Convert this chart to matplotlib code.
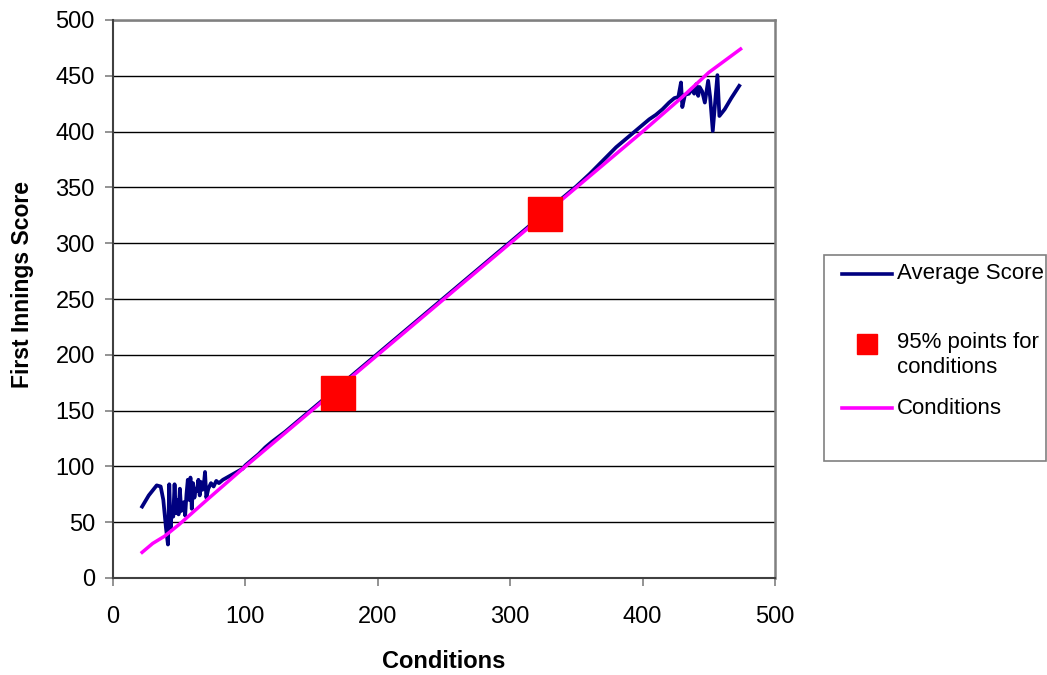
import matplotlib
matplotlib.use("Agg")
import matplotlib.pyplot as plt
from matplotlib.lines import Line2D
from matplotlib.patches import Rectangle

plt.rcParams["font.family"] = ["Liberation Sans", "DejaVu Sans"]

# Average first innings score against conditions
avg_x = [22, 27, 33, 36, 38, 40, 41.5, 42.5, 43.5, 44.5, 45.5, 46.5, 47.5, 48.5,
         49.5, 50.5, 51.5, 52.5, 53.5, 54.5, 55.5, 56.5, 57.5, 58.5, 59.5, 60.5,
         61.5, 62.5, 63.5, 64.5, 65.5, 66.5, 67.5, 68.5, 69.5, 70.5, 72, 74, 76,
         78, 80, 83, 86, 89, 92, 95, 98, 100, 105, 110, 115, 120, 130, 140, 150,
         160, 170, 180, 190, 200, 210, 220, 230, 240, 250, 260, 270, 280, 290,
         300, 310, 320, 330, 340, 350, 360, 365, 370, 375, 380, 385, 390, 395,
         400, 405, 410, 415, 420, 424, 427, 429, 430, 432, 435, 437, 439, 440.5,
         442, 443, 445, 447, 449.5, 451, 453, 456.5, 458, 462, 467, 473]
avg_y = [64, 74, 83, 82, 70, 45, 30, 84, 45, 62, 55, 84, 58, 70, 57, 80, 60, 63,
         68, 56, 75, 88, 70, 90, 62, 85, 72, 80, 78, 88, 74, 86, 79, 82, 95, 72,
         80, 85, 82, 87, 85, 88, 90, 92, 94, 96, 98, 101, 106, 111, 117, 122, 131,
         141, 151, 161, 171, 181, 191, 201, 211, 221, 231, 241, 251, 261, 271, 281,
         291, 301, 311, 321, 331, 341, 351, 362, 368, 374, 380, 386, 391, 396, 401,
         406, 411, 415, 420, 426, 430, 431, 444, 422, 433, 434, 438, 434, 442.5,
         432, 440, 436, 426, 445.5, 431, 400.6, 450.6, 414, 420, 430, 441]

# Conditions (expected score line)
cond_x = [22, 30, 39, 50, 70, 100, 150, 200, 250, 300, 350, 400, 430, 450, 474]
cond_y = [23, 31, 37.5, 48, 69, 100, 150, 200, 250, 300, 350, 400, 431, 453, 474]

# 95% points for conditions
pts_x = [170, 326]
pts_y = [166, 326]

W, H = 1047, 675
fig = plt.figure(figsize=(W / 100, H / 100), dpi=100)
ax = fig.add_axes([113 / W, 1 - 578 / H, 662 / W, 558 / H])

ax.plot(avg_x, avg_y, color="#000080", lw=2.7, zorder=3, solid_joinstyle="round")
ax.plot(cond_x, cond_y, color="#FF00FF", lw=2.5, zorder=4)
ax.plot(pts_x, pts_y, ls="none", marker="s", ms=24, color="#FF0000",
        mec="#FF0000", zorder=5)

ax.set_xlim(0, 500)
ax.set_ylim(0, 500)
ax.set_xticks(range(0, 501, 100))
ax.set_yticks(range(0, 501, 50))
ax.yaxis.grid(True, color="#000000", lw=1.0)
ax.set_axisbelow(True)
for s in ("top", "right"):
    ax.spines[s].set_color("#808080")
    ax.spines[s].set_linewidth(1.8)
for s in ("left", "bottom"):
    ax.spines[s].set_color("#404040")
    ax.spines[s].set_linewidth(1.5)
    ax.spines[s].set_zorder(6)
ax.tick_params(direction="out", length=6, width=1.2, color="#808080",
               labelsize=17)
ax.tick_params(axis="x", pad=14)
ax.tick_params(axis="y", pad=7)

ax.set_xlabel("Conditions", fontsize=17, fontweight="bold", va="center")
ax.xaxis.set_label_coords(0.5, -(661 - 578) / 558)
ax.set_ylabel("First Innings Score", fontsize=16.5, fontweight="bold", va="center")
ax.yaxis.set_label_coords(-(113 - 23) / 662, (578 - 284) / 558)

# legend box drawn by hand
def fx(px):
    return px / W

def fy(py):
    return 1 - py / H

fig.add_artist(Rectangle((fx(824), fy(461)), fx(1046) - fx(824), fy(255) - fy(461),
                         transform=fig.transFigure, fill=False,
                         edgecolor="#808080", lw=1.2))
fig.add_artist(Line2D([fx(842), fx(892)], [fy(274), fy(274)],
                      transform=fig.transFigure, color="#000080", lw=2.6))
fig.add_artist(Line2D([fx(867)], [fy(344)], transform=fig.transFigure,
                      ls="none", marker="s", ms=14, color="#FF0000"))
fig.add_artist(Line2D([fx(842), fx(892)], [fy(408), fy(408)],
                      transform=fig.transFigure, color="#FF00FF", lw=2.6))
fig.text(fx(897), fy(274), "Average Score", fontsize=16, va="center")
fig.text(fx(897), fy(355), "95% points for\nconditions", fontsize=16,
         va="center", linespacing=1.3)
fig.text(fx(897), fy(408), "Conditions", fontsize=16, va="center")

fig.savefig("out.png", dpi=100)
